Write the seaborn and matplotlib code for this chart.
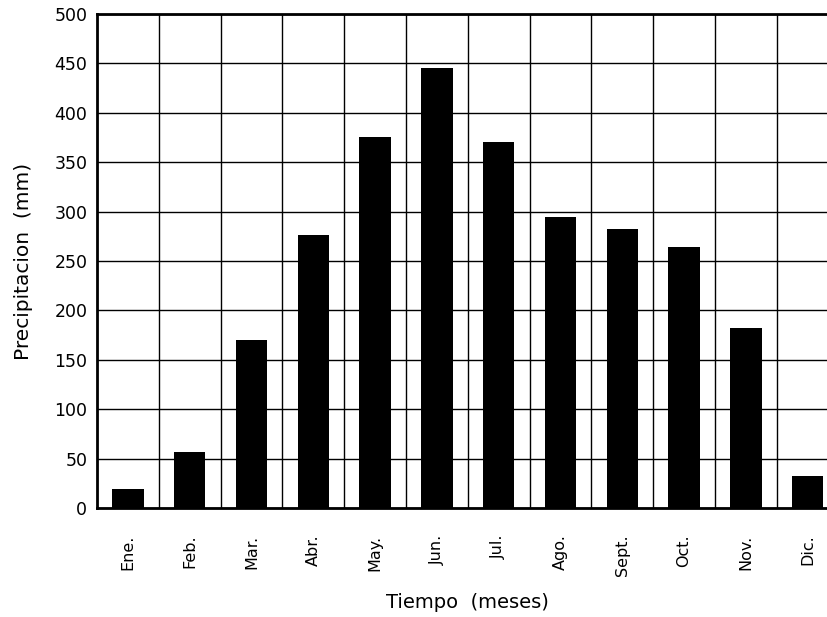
import matplotlib
matplotlib.use("Agg")
import matplotlib.pyplot as plt
import seaborn as sns
import pandas as pd
import numpy as np
from matplotlib.ticker import FixedLocator, MultipleLocator

meses = ["Ene.", "Feb.", "Mar.", "Abr.", "May.", "Jun.",
         "Jul.", "Ago.", "Sept.", "Oct.", "Nov.", "Dic."]
precipitacion = [19, 57, 170, 276, 376, 445, 370, 295, 282, 264, 182, 32]

df = pd.DataFrame({"mes": meses, "pp": precipitacion})

sns.set_theme(style="white")
plt.rcParams["font.family"] = ["DejaVu Sans"]

fig = plt.figure(figsize=(8.28, 6.17), dpi=100)
ax = fig.add_axes([97 / 828, 1 - 508 / 617, 741.6 / 828, 494 / 617])

sns.barplot(data=df, x="mes", y="pp", color="black", width=0.51,
            saturation=1, linewidth=0, ax=ax, zorder=3)

ax.set_xlim(-0.5, len(meses) - 0.5)
ax.set_ylim(0, 500)
ax.yaxis.set_major_locator(MultipleLocator(50))
ax.xaxis.set_minor_locator(FixedLocator(np.arange(0.5, len(meses) - 0.5, 1)))

# grid: horizontal every 50 mm, vertical between months
ax.grid(False)
ax.grid(True, axis="y", which="major", color="black", linewidth=1.0, zorder=0)
ax.grid(True, axis="x", which="minor", color="black", linewidth=1.0, zorder=0)
ax.set_axisbelow(True)

for side in ["left", "top", "bottom"]:
    ax.spines[side].set_visible(True)
    ax.spines[side].set_color("black")
    ax.spines[side].set_linewidth(2.0)
ax.spines["right"].set_visible(False)

ax.tick_params(axis="both", which="both", length=0)
ax.tick_params(axis="y", labelsize=12.5, pad=7, colors="black")
ax.tick_params(axis="x", labelsize=11.5, pad=19, colors="black", labelrotation=90)
for lbl in ax.get_xticklabels():
    lbl.set_verticalalignment("top")

ax.set_xlabel("Tiempo  (meses)", fontsize=14, labelpad=12, color="black")
ax.set_ylabel("Precipitacion  (mm)", fontsize=14.5, labelpad=15, color="black")

fig.savefig("out.png", dpi=100, facecolor="white")
